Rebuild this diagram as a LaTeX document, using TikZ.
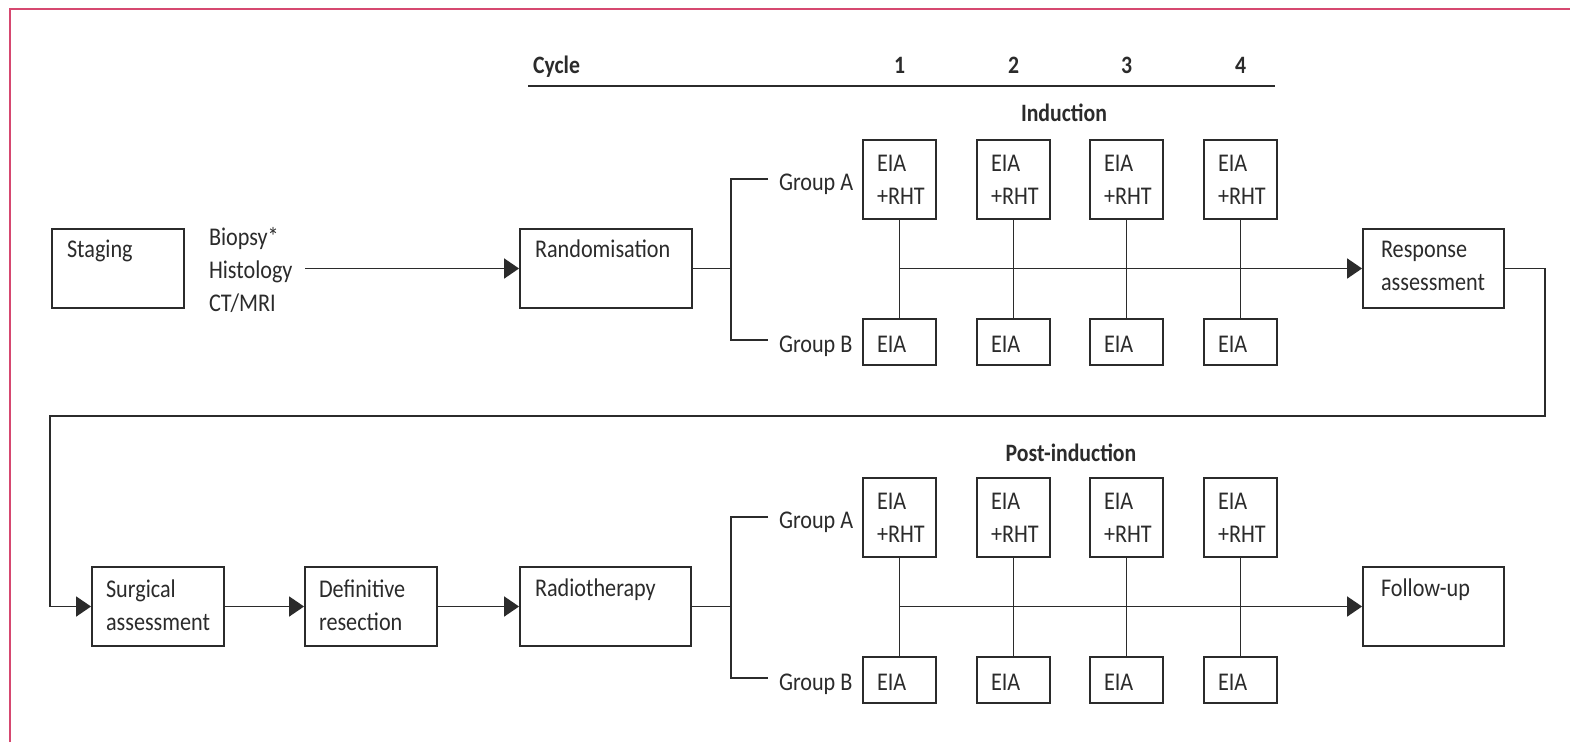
\documentclass[tikz,border=0pt]{standalone}
\usepackage{fontspec}
\setmainfont{Carlito}[FakeStretch=0.87]
\usetikzlibrary{arrows.meta}
\definecolor{ink}{HTML}{2B2B2B}
\definecolor{framecol}{RGB}{214,72,112}
\newcommand\bx[5]{\node[box, minimum width={#4-#2}, minimum height={#5-#3}] (#1) at ({(#2+#4)/2},{(#3+#5)/2}) {};}
\begin{document}
\begin{tikzpicture}[x=1pt,y=-1pt,
  every node/.style={inner sep=0pt, outer sep=0pt},
  box/.style={draw=ink, line width=1.9pt, rectangle, outer sep=0.95pt},
  txt/.style={text=ink, font=\fontsize{25.5}{33}\selectfont, anchor=base west},
  mtxt/.style={txt, text width=140pt, align=left},
  hdr/.style={text=ink, font=\bfseries\fontsize{25}{33}\selectfont, anchor=base},
  conn/.style={draw=ink, line width=1.9pt},
  arr/.style={conn, -{Triangle[length=15pt,width=20pt]}},
]
\useasboundingbox (0,0) rectangle (1570,742);
\fill[white] (0,0) rectangle (1570,742);
\draw[framecol, line width=2.5pt] (10,742) -- (10,9) -- (1570,9);

% header
\node[hdr, anchor=base west] (cycle) at (533,73) {Cycle};
\draw[conn] (528,86) coordinate (ruleL) -- (1275,86) coordinate (ruleR);
\node[hdr] (n1) at (899.5,73) {1};
\node[hdr] (n2) at (1013.5,73) {2};
\node[hdr] (n3) at (1126.5,73) {3};
\node[hdr] (n4) at (1240.5,73) {4};
\node[hdr] (induction) at (1064,121) {Induction};
\node[hdr] (postind) at (1071,461) {Post-induction};

% top row boxes
\bx{staging}{52}{229}{184}{308}
\node[txt] (stagingt) at ([xshift=16pt,yshift=-29pt]staging.north west) {Staging};
\node[mtxt] (tests) at (209,245) {Biopsy*\\Histology\\CT/MRI};
\bx{rand}{520}{229}{692}{308}
\node[txt] (randt) at ([xshift=16pt,yshift=-29pt]rand.north west) {Randomisation};
\bx{resp}{1363}{229}{1504}{308}
\node[mtxt] (respt) at ([xshift=19pt,yshift=-29pt]resp.north west) {Response\\assessment};

% bottom row boxes
\bx{surg}{92}{567}{224}{646}
\node[mtxt] (surgt) at ([xshift=15pt,yshift=-31pt]surg.north west) {Surgical\\assessment};
\bx{defres}{305}{567}{437}{646}
\node[mtxt] (defrest) at ([xshift=15pt,yshift=-31pt]defres.north west) {Definitive\\resection};
\bx{radio}{520}{567}{691}{646}
\node[txt] (radiot) at ([xshift=16pt,yshift=-30pt]radio.north west) {Radiotherapy};
\bx{follow}{1363}{567}{1504}{646}
\node[txt] (followt) at ([xshift=19pt,yshift=-30pt]follow.north west) {Follow-up};

% treatment boxes
\foreach \i/\xl/\xr in {1/863/936, 2/977/1050, 3/1090/1163, 4/1204/1277}{
  \bx{a\i}{\xl}{140}{\xr}{219}
  \node[mtxt] (at\i) at ([xshift=15pt,yshift=-32pt]a\i.north west) {EIA\\+RHT};
  \bx{b\i}{\xl}{319}{\xr}{365}
  \node[txt] (bt\i) at ([xshift=15pt]b\i.north west |- 0,352) {EIA};
  \draw[conn] (a\i.south) -- (b\i.north);
  \bx{c\i}{\xl}{478}{\xr}{557}
  \node[mtxt] (ct\i) at ([xshift=15pt,yshift=-32pt]c\i.north west) {EIA\\+RHT};
  \bx{d\i}{\xl}{657}{\xr}{703}
  \node[txt] (dt\i) at ([xshift=15pt]d\i.north west |- 0,690) {EIA};
  \draw[conn] (c\i.south) -- (d\i.north);
}

% group labels
\node[txt] (gA1) at (779,190) {Group A};
\node[txt] (gB1) at (779,352) {Group B};
\node[txt] (gA2) at (779,528) {Group A};
\node[txt] (gB2) at (779,690) {Group B};

% branches
\coordinate (sA1) at (768,179);
\coordinate (sB1) at (768,340);
\coordinate (j1) at (731,268.5);
\draw[conn] (sA1) -| (j1) |- (sB1);
\draw[conn] (rand.east) -- (j1);
\coordinate (sA2) at (768,517);
\coordinate (sB2) at (768,678);
\coordinate (j2) at (731,606.5);
\draw[conn] (sA2) -| (j2) |- (sB2);
\draw[conn] (radio.east) -- (j2);

% main arrows
\coordinate (teststart) at (305,268.5);
\draw[arr] (teststart) -- (rand.west);
\draw[arr] (a1.south |- resp.west) -- (resp.west);
\draw[arr] (c1.south |- follow.west) -- (follow.west);
\coordinate (loopR) at (1545,416);
\coordinate (loopL) at (50,416);
\draw[arr] (resp.east) -| (loopR) -- (loopL) |- (surg.west);
\draw[arr] (surg.east) -- (defres.west);
\draw[arr] (defres.east) -- (radio.west);
\end{tikzpicture}
\end{document}
